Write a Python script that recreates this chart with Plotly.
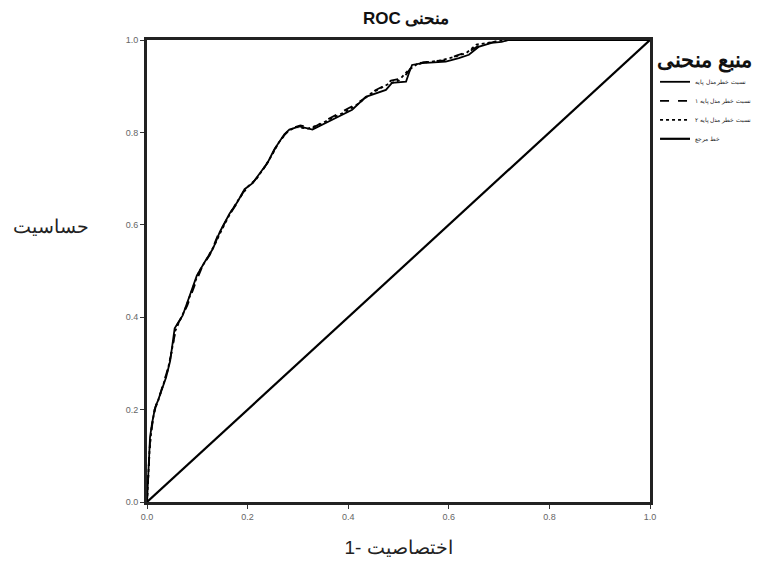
import plotly.graph_objects as go

# Model 1 (solid)
m1_x = [0, 0.002, 0.004, 0.006, 0.010, 0.016, 0.022, 0.029, 0.038, 0.046, 0.055, 0.063, 0.071,
        0.085, 0.099, 0.115, 0.131, 0.145, 0.164, 0.180, 0.194, 0.210, 0.224, 0.240, 0.253,
        0.273, 0.283, 0.303, 0.329, 0.356, 0.382, 0.408, 0.435, 0.461, 0.475, 0.487, 0.515,
        0.521, 0.527, 0.547, 0.594, 0.620, 0.640, 0.659, 0.685, 0.705, 0.719, 1.0]
m1_y = [0, 0.040, 0.090, 0.140, 0.170, 0.204, 0.220, 0.240, 0.270, 0.305, 0.376, 0.390, 0.404,
        0.447, 0.490, 0.520, 0.548, 0.585, 0.624, 0.650, 0.677, 0.690, 0.710, 0.735, 0.763,
        0.796, 0.806, 0.813, 0.806, 0.821, 0.834, 0.849, 0.877, 0.886, 0.892, 0.907, 0.910,
        0.929, 0.946, 0.950, 0.953, 0.961, 0.968, 0.985, 0.994, 0.996, 1.0, 1.0]

# Model 2 (dashed)
m2_x = [0, 0.003, 0.006, 0.012, 0.018, 0.025, 0.033, 0.042, 0.050, 0.058, 0.068, 0.080,
        0.095, 0.110, 0.125, 0.140, 0.160, 0.178, 0.192, 0.208, 0.226, 0.242, 0.256, 0.270,
        0.285, 0.305, 0.330, 0.355, 0.380, 0.405, 0.430, 0.455, 0.470, 0.485, 0.510, 0.525,
        0.550, 0.590, 0.615, 0.640, 0.660, 0.690, 0.715, 1.0]
m2_y = [0, 0.060, 0.130, 0.180, 0.210, 0.230, 0.258, 0.290, 0.330, 0.380, 0.398, 0.425,
        0.470, 0.510, 0.535, 0.575, 0.615, 0.645, 0.672, 0.688, 0.712, 0.738, 0.768, 0.790,
        0.808, 0.815, 0.810, 0.826, 0.840, 0.855, 0.872, 0.892, 0.900, 0.912, 0.918, 0.940,
        0.952, 0.956, 0.966, 0.975, 0.988, 0.996, 1.0, 1.0]

# Model 3 (dotted)
m3_x = [0, 0.002, 0.005, 0.009, 0.015, 0.021, 0.030, 0.040, 0.048, 0.056, 0.066, 0.075,
        0.090, 0.104, 0.120, 0.136, 0.150, 0.168, 0.185, 0.200, 0.218, 0.232, 0.248, 0.262,
        0.278, 0.295, 0.320, 0.345, 0.370, 0.395, 0.420, 0.445, 0.465, 0.480, 0.500, 0.520,
        0.540, 0.580, 0.610, 0.635, 0.655, 0.680, 0.700, 0.718, 1.0]
m3_y = [0, 0.050, 0.110, 0.160, 0.200, 0.215, 0.245, 0.280, 0.320, 0.370, 0.395, 0.415,
        0.460, 0.500, 0.528, 0.560, 0.592, 0.630, 0.660, 0.682, 0.700, 0.722, 0.750, 0.778,
        0.800, 0.812, 0.808, 0.818, 0.832, 0.845, 0.862, 0.884, 0.896, 0.905, 0.912, 0.935,
        0.950, 0.955, 0.963, 0.972, 0.990, 0.995, 0.998, 1.0, 1.0]

# Reference line
ref_x = [0, 1]
ref_y = [0, 1]

series_names = ["نسبت خطر مدل پایه", "نسبت خطر مدل پایه ۱", "نسبت خطر مدل پایه ۲", "خط مرجع"]
tick_vals = [0.0, 0.2, 0.4, 0.6, 0.8, 1.0]
tick_text = ["0.0", "0.2", "0.4", "0.6", "0.8", "1.0"]

RLE, PDF = "\u202b", "\u202c"

fig = go.Figure()
fig.add_trace(go.Scatter(x=m1_x, y=m1_y, mode="lines", name=series_names[0],
                         line=dict(color="black", width=1.8)))
fig.add_trace(go.Scatter(x=m2_x, y=m2_y, mode="lines", name=series_names[1],
                         line=dict(color="black", width=1.8, dash="dash")))
fig.add_trace(go.Scatter(x=m3_x, y=m3_y, mode="lines", name=series_names[2],
                         line=dict(color="black", width=1.8, dash="dot")))
fig.add_trace(go.Scatter(x=ref_x, y=ref_y, mode="lines", name=series_names[3],
                         line=dict(color="black", width=2.2)))

axis_common = dict(
    range=[0, 1], tickvals=tick_vals, ticktext=tick_text,
    showgrid=False, zeroline=False,
    showline=True, linecolor="#222", linewidth=3, mirror=True,
    ticks="outside", ticklen=4, tickcolor="#333", tickwidth=1,
    tickfont=dict(family="Liberation Sans, Arial", size=9, color="#666"),
)

fig.update_layout(
    width=760, height=559,
    paper_bgcolor="white", plot_bgcolor="white",
    margin=dict(l=139, r=108, t=32, b=54),
    title=dict(text="<b>" + RLE + "منحنی ROC" + PDF + "</b>", x=0.524, xanchor="center",
               y=0.982, yref="container", yanchor="middle",
               font=dict(family="Liberation Sans, Arial", size=17, color="#111")),
    xaxis=dict(**axis_common,
               title=dict(text="1- اختصاصیت", standoff=20,
                          font=dict(family="Liberation Sans, Arial", size=19, color="#222"))),
    yaxis=dict(**axis_common),
    legend=dict(
        x=1.01, xanchor="left", y=1.0, yanchor="top",
        title=dict(text="<b>منبع منحنی</b>", side="top",
                   font=dict(family="Liberation Sans, Arial", size=21, color="#111")),
        font=dict(family="Liberation Sans, Arial", size=6, color="#222"),
        tracegroupgap=0, itemwidth=30, bgcolor="rgba(0,0,0,0)",
    ),
    annotations=[dict(text="حساسیت", xref="paper", yref="paper", x=-0.19, y=0.596,
                      showarrow=False, xanchor="center", yanchor="middle",
                      font=dict(family="Liberation Sans, Arial", size=19, color="#222"))],
)

fig.write_html("out.html")
